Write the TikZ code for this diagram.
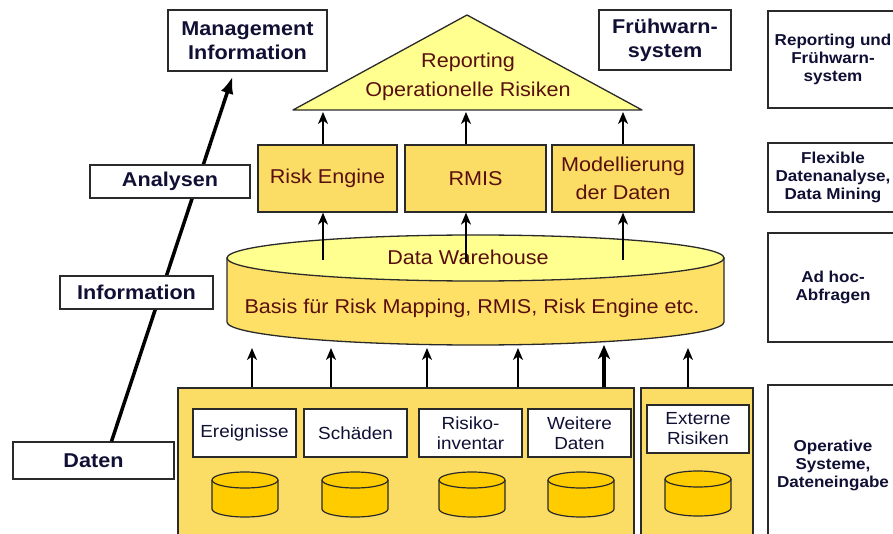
\documentclass[tikz,border=0pt]{standalone}
\usepackage{fontspec}
\setmainfont{Liberation Sans}[FakeStretch=1.08]
\usetikzlibrary{arrows.meta}

\definecolor{boxyellow}{HTML}{FBDD66}
\definecolor{bodyyellow}{HTML}{FFE066}
\definecolor{paleyellow}{HTML}{FFFF8F}
\definecolor{dbyellow}{HTML}{FFCC00}
\definecolor{redtext}{HTML}{5A0F0F}
\definecolor{navytext}{HTML}{101035}
\definecolor{edge}{HTML}{2A2A2A}

\tikzset{
  wbox/.style={draw=edge, line width=1.3pt, fill=white, inner sep=0pt, align=center,
    text=navytext, font=\bfseries\fontsize{20}{24}\selectfont},
  ybox/.style={draw=edge, line width=1.3pt, fill=boxyellow, inner sep=0pt, align=center,
    text=redtext, font=\fontsize{20}{28}\selectfont},
  sbox/.style={draw=edge, line width=1.3pt, fill=white, inner sep=0pt, align=center,
    text=navytext, font=\fontsize{17.5}{20}\selectfont,
    minimum width=103pt, minimum height=48pt},
  sidebox/.style={draw=edge, line width=1.3pt, fill=white, inner sep=0pt, align=center,
    text=navytext, font=\bfseries\fontsize{15.8}{18}\selectfont, minimum width=130pt},
  panel/.style={draw=edge, line width=1.3pt, fill=boxyellow, inner sep=0pt},
  arr/.style={-{Stealth[length=12pt,width=10pt,inset=3.5pt]}, line width=1.2pt, draw=black},
  thickarr/.style={-{Stealth[length=14pt,width=12pt,inset=4pt]}, line width=4pt, draw=black},
  bigarr/.style={-{Latex[length=17pt,width=13pt]}, line width=3.5pt, draw=black},
  lbl/.style={inner sep=0pt, align=center},
}

\begin{document}
\begin{tikzpicture}[x=1pt,y=-1pt]
\useasboundingbox (0,0) rectangle (893,534);
\clip (0,0) rectangle (893,534);
\fill[white] (0,0) rectangle (893,534);

% ---------- left axis: Daten -> Information -> Analysen -> Management ----------
\node[wbox, minimum width=159pt, minimum height=61pt] (mgmt) at (247.5,40.5)
  {Management\\Information};
\node[wbox, minimum width=161pt, minimum height=37pt] (daten) at (93.5,460.5) {Daten};
\draw[bigarr] ([xshift=18pt]daten.north) -- ([xshift=-15pt,yshift=-5pt]mgmt.south);
\node[wbox, minimum width=160pt, minimum height=33pt] (analysen) at (170,181.5) {Analysen};
\node[wbox, minimum width=153pt, minimum height=33pt] (info) at (136.5,292.5) {Information};

\node[wbox, minimum width=132pt, minimum height=60pt] (fw) at (665,40) {Frühwarn-\\system};

% ---------- reporting triangle ----------
\coordinate (tl) at (293,110);
\coordinate (tt) at (467,15);
\coordinate (tr) at (642,110);
\filldraw[fill=paleyellow, draw=edge, line width=1.3pt, line join=round] (tl) -- (tt) -- (tr) -- cycle;
\node[lbl, text=redtext, font=\fontsize{20}{29}\selectfont] (rep) at (468,77)
  {Reporting\\Operationelle Risiken};

% ---------- analysis boxes ----------
\node[ybox, minimum width=139pt, minimum height=67pt] (re) at (327.5,178.5) {Risk Engine};
\node[ybox, minimum width=141pt, minimum height=67pt] (rmis) at (475.5,178.5) {RMIS};
\node[ybox, minimum width=142pt, minimum height=67pt] (mod) at (623,178.5) {Modellierung\\der Daten};

\coordinate (t1) at (323,112);
\coordinate (t2) at (466,112);
\coordinate (t3) at (623,112);
\draw[arr] (re.north -| t1) -- (t1);
\draw[arr] (rmis.north -| t2) -- (t2);
\draw[arr] (mod.north -| t3) -- (t3);

% ---------- data warehouse cylinder ----------
\filldraw[fill=bodyyellow, draw=edge, line width=1.3pt]
  (227,258) -- (227,322) arc[start angle=180, end angle=360, x radius=248.5pt, y radius=23pt]
  -- (724,258) -- cycle;
\filldraw[fill=paleyellow, draw=edge, line width=1.3pt]
  (475.5,258) ellipse[x radius=248.5pt, y radius=23pt];
\node[lbl, text=redtext, font=\fontsize{20}{24}\selectfont] (dw) at (468,257) {Data Warehouse};
\node[lbl, text=redtext, font=\fontsize{20}{24}\selectfont] (basis) at (472,308)
  {Basis für Risk Mapping, RMIS, Risk Engine etc.};

\coordinate (c1) at (323,260);
\coordinate (c2) at (466,262);
\coordinate (c3) at (623,260);
\draw[arr] (c1) -- (re.south -| c1);
\draw[arr] (c2) -- (rmis.south -| c2);
\draw[arr] (c3) -- (mod.south -| c3);

% ---------- operative systems ----------
\node[panel, minimum width=456pt, minimum height=157pt] (ops) at (406,466.5) {};
\node[panel, minimum width=112pt, minimum height=157pt] (ext) at (697,466.5) {};

\node[sbox] (ereig) at (244.5,433) {Ereignisse};
\node[sbox] (schad) at (355.5,433) {Schäden};
\node[sbox] (risiko) at (470.5,433) {Risiko-\\inventar};
\node[sbox] (weit) at (579.5,433) {Weitere\\Daten};
\node[sbox, minimum width=102pt] (extr) at (698,429) {Externe\\Risiken};

% small database drums
\foreach \cx/\ty in {245/480, 355/480, 472/480, 581/480, 698/479}{
  \filldraw[fill=dbyellow, draw=edge, line width=1.2pt]
    ({\cx-33},\ty) -- ({\cx-33},{\ty+29})
    arc[start angle=180, end angle=360, x radius=33pt, y radius=8pt]
    -- ({\cx+33},\ty)
    arc[start angle=0, end angle=180, x radius=33pt, y radius=8pt] -- cycle;
  \draw[edge, line width=1.2pt] ({\cx-33},\ty)
    arc[start angle=180, end angle=360, x radius=33pt, y radius=8pt];
}

% feeds into the warehouse
\coordinate (d1) at (252,348);
\coordinate (d2) at (331,348);
\coordinate (d3) at (427,348);
\coordinate (d4) at (518,348);
\coordinate (d5) at (604,345);
\coordinate (d6) at (688,348);
\draw[arr] (ops.north -| d1) -- (d1);
\draw[arr] (ops.north -| d2) -- (d2);
\draw[arr] (ops.north -| d3) -- (d3);
\draw[arr] (ops.north -| d4) -- (d4);
\draw[thickarr] (ops.north -| d5) -- (d5);
\draw[arr] (ext.north -| d6) -- (d6);

% ---------- right column: usage levels ----------
\node[sidebox, minimum height=97pt] (s1) at (833,59.5) {Reporting und\\Frühwarn-\\system};
\node[sidebox, minimum height=69pt] (s2) at (833,177.5) {Flexible\\Datenanalyse,\\Data Mining};
\node[sidebox, minimum height=109pt] (s3) at (833,287.5) {Ad hoc-\\Abfragen};
\node[sidebox, minimum height=160pt] (s4) at (833,465) {Operative\\Systeme,\\Dateneingabe};
\end{tikzpicture}
\end{document}
